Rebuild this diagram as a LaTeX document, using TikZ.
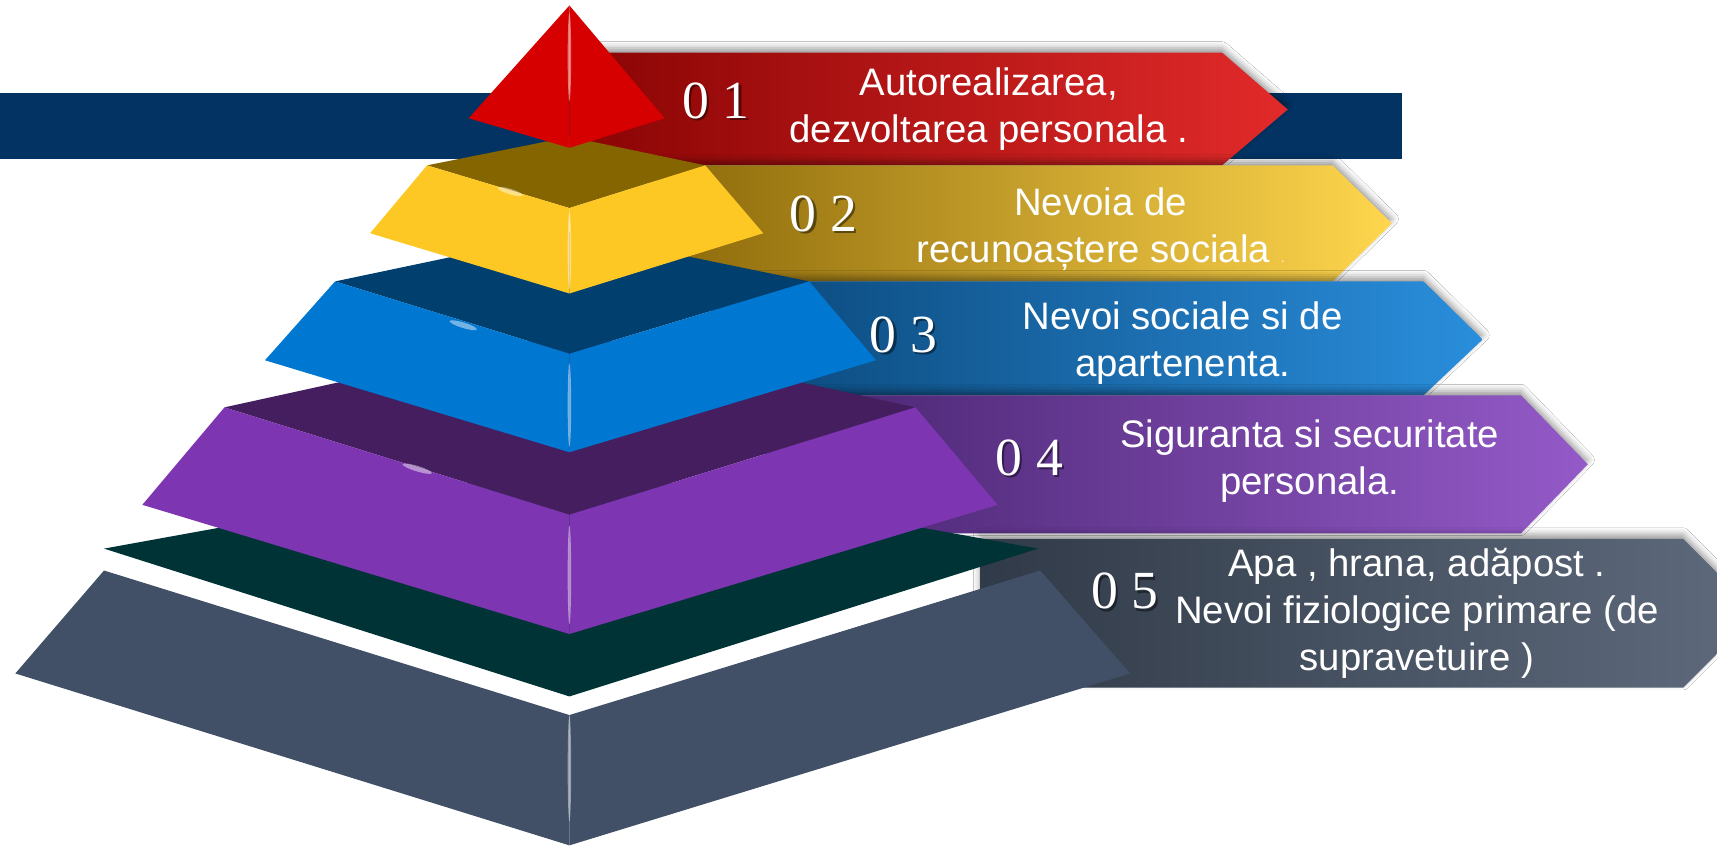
\documentclass[tikz,border=0pt]{standalone}
\usepackage{fontspec}
\setmainfont{Liberation Sans}
\newfontfamily\digitfont{Liberation Serif}
\usetikzlibrary{shadows.blur}
% pyramid colours
\definecolor{navybar}{RGB}{2,51,99}
\definecolor{tipred}{RGB}{214,0,0}
\definecolor{goldtop}{RGB}{133,101,0}
\definecolor{goldfront}{RGB}{253,200,35}
\definecolor{bluetop}{RGB}{1,63,110}
\definecolor{bluefront}{RGB}{0,119,208}
\definecolor{plumtop}{RGB}{69,30,95}
\definecolor{plumfront}{RGB}{126,53,177}
\definecolor{tealtop}{RGB}{0,51,53}
\definecolor{slatefront}{RGB}{65,80,102}
% band colours
\definecolor{redL}{RGB}{140,5,5}
\definecolor{redR}{RGB}{226,42,42}
\definecolor{goldL}{RGB}{140,105,10}
\definecolor{goldR}{RGB}{255,214,77}
\definecolor{blueL}{RGB}{10,70,120}
\definecolor{blueR}{RGB}{42,142,220}
\definecolor{plumL}{RGB}{70,35,110}
\definecolor{plumR}{RGB}{148,90,200}
\definecolor{slateL}{RGB}{48,58,72}
\definecolor{slateR}{RGB}{95,107,125}
\tikzset{
    % Define band style
    band/.style={
           blur shadow={shadow xshift=0pt,shadow yshift=4pt,
                        shadow blur radius=6pt,shadow opacity=40},
           },
    % Define highlight on the edges
    glint/.style={
           white,
           opacity=.45,
           },
    % Define number style
    digits/.style={
           text=white,
           inner sep=0pt,
           font=\digitfont\fontsize{49}{49}\selectfont,
           },
    digitshadow/.style={
           digits,
           text=black,
           text opacity=.45,
           },
    % Define caption style
    caption/.style={
           text=white,
           inner sep=0pt,
           align=center,
           font=\fontsize{35}{43}\selectfont,
           }
}
\begin{document}
\begin{tikzpicture}[x=1pt,y=-1pt]
  	\useasboundingbox (0,0) rectangle (1568,772.6);
  	\clip (0,0) rectangle (1568,772.6);
  	\fill[white] (0,0) rectangle (1568,772.6);
  	\fill[navybar] (0,85) rectangle (1280,145);
  	% bands
  	\path[band,left color=redL,right color=redR] (540,48) -- (1116,48) -- (1176,100) -- (1116,151) -- (540,151) -- cycle;
  	\path[band,left color=goldL,right color=goldR] (600,151) -- (1217,151) -- (1271,204) -- (1217,257) -- (600,257) -- cycle;
  	\path[band,left color=blueL,right color=blueR] (650,257) -- (1300,257) -- (1354,310) -- (1300,361) -- (650,361) -- cycle;
  	\path[band,left color=plumL,right color=plumR] (700,361) -- (1389,361) -- (1450,424) -- (1389,487) -- (700,487) -- cycle;
  	\path[band,left color=slateL,right color=slateR] (895,492) -- (1537,492) -- (1605,560) -- (1537,628) -- (895,628) -- cycle;
  	% level 5
  	\fill[tealtop] (95,501) -- (520,424) -- (948,501) -- (520,636) -- cycle;
  	\fill[slatefront] (95,521) -- (520,653) -- (520,772) -- (14,615) -- cycle;
  	\fill[slatefront] (520,653) -- (950,521) -- (1032,615) -- (520,772) -- cycle;
  	\fill[glint] (520,702) ellipse (1.6 and 48);
  	% level 4
  	\fill[plumtop] (205,372) -- (520,303) -- (836,372) -- (520,470) -- cycle;
  	\fill[plumfront] (205,372) -- (520,470) -- (520,579) -- (130,461) -- cycle;
  	\fill[plumfront] (520,470) -- (836,372) -- (911,461) -- (520,579) -- cycle;
  	\fill[glint] (520,525) ellipse (1.6 and 45);
  	\fill[glint,rotate around={-17:(381,428)}] (381,428) ellipse (14 and 2.5);
  	% level 3
  	\fill[bluetop] (306,257) -- (520,212) -- (739,257) -- (520,323) -- cycle;
  	\fill[bluefront] (306,257) -- (520,323) -- (520,413) -- (242,329) -- cycle;
  	\fill[bluefront] (520,323) -- (739,257) -- (800,329) -- (520,413) -- cycle;
  	\fill[glint] (520,370) ellipse (1.6 and 38);
  	\fill[glint,rotate around={-17:(423,297)}] (423,297) ellipse (13 and 2.5);
  	% level 2
  	\fill[goldtop] (390,151) -- (520,125) -- (644,151) -- (520,190) -- cycle;
  	\fill[goldfront] (390,151) -- (520,190) -- (520,268) -- (338,213) -- cycle;
  	\fill[goldfront] (520,190) -- (644,151) -- (697,213) -- (520,268) -- cycle;
  	\fill[glint] (520,229) ellipse (1.6 and 35);
  	\fill[glint,rotate around={-17:(466,175)}] (466,175) ellipse (12 and 2.5);
  	% level 1
  	\fill[tipred] (520,5) -- (428,108) -- (520,135) -- cycle;
  	\fill[tipred] (520,5) -- (520,135) -- (607,108) -- cycle;
  	\fill[glint] (520,52) ellipse (1.6 and 40);
  	% numbers
  	\node (s1) at (656,94) [digitshadow] {0 1};
  	\node (s2) at (754,197) [digitshadow] {0 2};
  	\node (s3) at (827,308) [digitshadow] {0 3};
  	\node (s4) at (942,420) [digitshadow] {0 4};
  	\node (s5) at (1029,542) [digitshadow] {0 5};
  	\node (n1) at (654,92) [digits] {0 1};
  	\node (n2) at (752,195) [digits] {0 2};
  	\node (n3) at (825,306) [digits] {0 3};
  	\node (n4) at (940,418) [digits] {0 4};
  	\node (n5) at (1027,540) [digits] {0 5};
  	% captions
  	\node (t1) at (903,100) [caption] {Autorealizarea,\\dezvoltarea personala .};
  	\node (t2) at (1005,209) [caption] {Nevoia de\\recunoaștere sociala {\fontsize{12}{12}\selectfont .}};
  	\node (t3) at (1080,313) [caption] {Nevoi sociale si de\\apartenenta.};
  	\node (t4) at (1196,421) [caption] {Siguranta si securitate\\personala.};
  	\node (t5) at (1294,560) [caption] {Apa , hrana, adăpost .\\Nevoi fiziologice primare (de\\supravetuire )};
\end{tikzpicture}
\end{document}
